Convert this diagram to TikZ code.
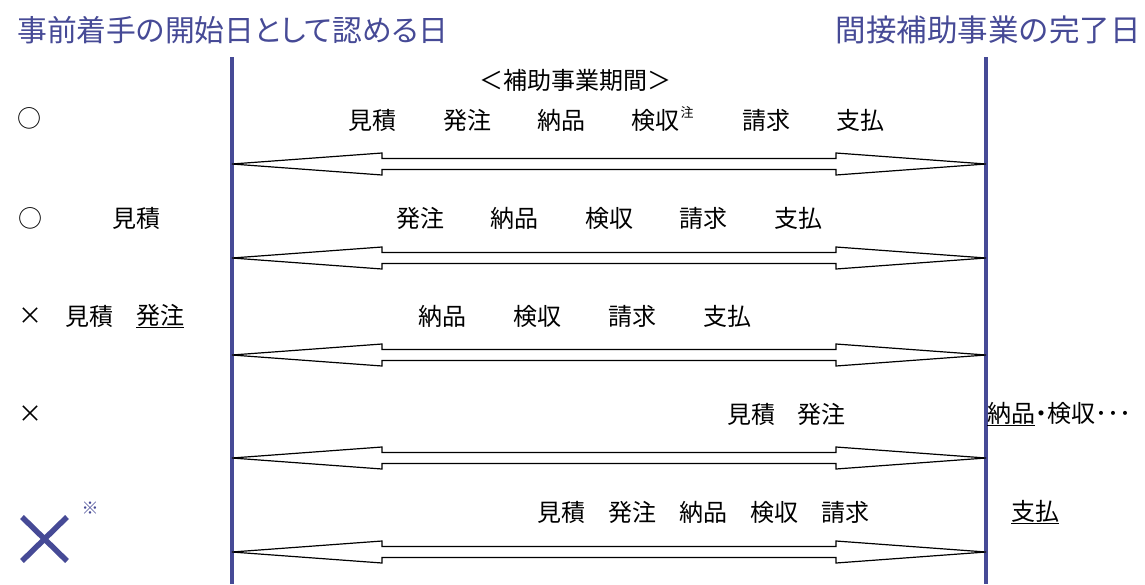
\documentclass[tikz,border=0pt]{standalone}
\usepackage{fontspec}
\setmainfont{Noto Sans CJK JP}
\newfontfamily\propfont{Noto Sans CJK JP}[RawFeature=+palt]
\usepackage{xcolor}
\usetikzlibrary{positioning}
\definecolor{lineblue}{RGB}{70,74,150}

\begin{document}
\begin{tikzpicture}[x=1pt,y=-1pt,
  word/.style={inner sep=0pt,font=\fontsize{24}{28}\selectfont},
  title/.style={inner sep=0pt,text=lineblue,font=\fontsize{30.5}{34}\selectfont},
  period/.style={lineblue,line width=3.3pt},
  blockarrow/.style={draw=black,line width=1.2pt,fill=white,line join=miter}]
  \useasboundingbox (0,0) rectangle (1145,584);
  % titles
  \node[title,anchor=west,font=\fontsize{29.8}{34}\propfont] (start) at (17,30) {事前着手の開始日として認める日};
  \node[title,anchor=east] (finish) at (1141,30) {間接補助事業の完了日};
  % period lines
  \coordinate (lt) at (232,57); \coordinate (lb) at (232,584);
  \coordinate (rt) at (986,57); \coordinate (rb) at (986,584);
  \draw[period] (lt) -- (lb);
  \draw[period] (rt) -- (rb);
  \node[word] (period) at (575,80) {＜補助事業期間＞};
  % double block arrows
  \foreach \y in {164,258,355,458,552} {
    \coordinate (tipL) at (232,\y);
    \coordinate (tipR) at (986,\y);
    \draw[blockarrow] (tipL) -- ++(150,-11) -- ++(0,5.5) -- ++(454,0) -- ++(0,-5.5)
      -- (tipR) -- ++(-150,11) -- ++(0,-5.5) -- ++(-454,0) -- ++(0,5.5) -- cycle;
  }
  % row 1
  \node[word] (mark1) at (29,118) {○};
  \foreach \t/\x [count=\i] in {見積/372,発注/467,納品/561,検収/655,請求/766,支払/860}
    \node[word] (ra\i) at (\x,120) {\t};
  \node[inner sep=0pt,font=\fontsize{13}{15}\selectfont] (note) at (687,112) {注};
  % row 2
  \node[word] (mark2) at (30,218) {○};
  \node[word] (rb0) at (136,218) {見積};
  \foreach \t/\x [count=\i] in {発注/420,納品/514,検収/609,請求/703,支払/798}
    \node[word] (rb\i) at (\x,218) {\t};
  % row 3
  \node[word] (mark3) at (30,316) {×};
  \node[word] (rc0) at (89,316) {見積};
  \node[word] (rc00) at (160,316) {\underline{発注}};
  \foreach \t/\x [count=\i] in {納品/442,検収/537,請求/632,支払/727}
    \node[word] (rc\i) at (\x,316) {\t};
  % row 4
  \node[word] (mark4) at (30,414) {×};
  \node[word] (rd1) at (751,414) {見積};
  \node[word] (rd2) at (821,414) {発注};
  \node[word,anchor=west] (rd3) at (987,414) {\underline{納品}\propfont ・検収･･･};
  % row 5
  \draw[lineblue,line width=5.5pt] (22,517) -- (67,561) (67,517) -- (22,561);
  \node[inner sep=0pt,text=lineblue,font=\fontsize{17}{19}\selectfont] (mark5) at (90,508) {※};
  \foreach \t/\x [count=\i] in {見積/561,発注/632,納品/703,検収/774,請求/845}
    \node[word] (re\i) at (\x,512) {\t};
  \node[word] (re6) at (1035,512) {\underline{支払}};
\end{tikzpicture}
\end{document}
